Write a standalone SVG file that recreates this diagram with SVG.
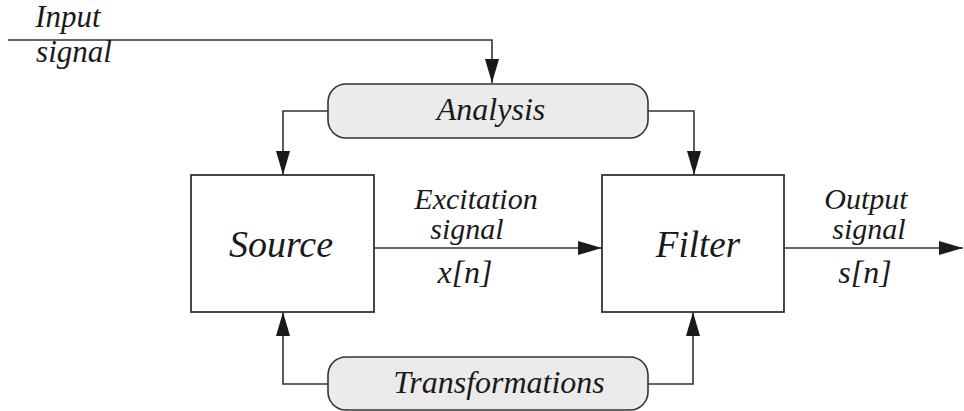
<svg xmlns="http://www.w3.org/2000/svg" width="964" height="411" viewBox="0 0 964 411">
<defs>
<marker id="arr" markerUnits="userSpaceOnUse" markerWidth="26" markerHeight="16" refX="24" refY="7" orient="auto">
<path d="M0,0 L24,7 L0,14 Z" fill="#1a1a1a"/>
</marker>
<style>
.ln{fill:none;stroke:#333;stroke-width:1.6}
.box{fill:#fff;stroke:#333;stroke-width:1.8}
.pill{fill:#ebebeb;stroke:#333;stroke-width:1.6}
</style>
</defs>
<rect width="964" height="411" fill="#fff"/>
<g id="connectors">
<path class="ln" d="M8,40 H492 V83" marker-end="url(#arr)"/>
<path class="ln" d="M328,111 H283 V175" marker-end="url(#arr)"/>
<path class="ln" d="M648,111 H694 V175" marker-end="url(#arr)"/>
<path class="ln" d="M374,248 H602" marker-end="url(#arr)"/>
<path class="ln" d="M784,248 H963" marker-end="url(#arr)"/>
<path class="ln" d="M328,384 H283 V312" marker-end="url(#arr)"/>
<path class="ln" d="M648,384 H693 V312" marker-end="url(#arr)"/>
</g>
<g id="input-label">
<text x="68" y="27" font-family="Liberation Serif, DejaVu Serif, serif" font-style="italic" font-size="31" fill="#1a1a1a" text-anchor="middle">Input</text>
<text x="74" y="62" font-family="Liberation Serif, DejaVu Serif, serif" font-style="italic" font-size="31" fill="#1a1a1a" text-anchor="middle">signal</text>
</g>
<g id="analysis">
<rect class="pill" x="328" y="84" width="320" height="54" rx="18"/>
<text x="491" y="120" font-family="Liberation Serif, DejaVu Serif, serif" font-style="italic" font-size="32" fill="#1a1a1a" text-anchor="middle">Analysis</text>
</g>
<g id="source">
<rect class="box" x="191" y="175" width="183" height="137"/>
<text x="281" y="257" font-family="Liberation Serif, DejaVu Serif, serif" font-style="italic" font-size="38" fill="#1a1a1a" text-anchor="middle">Source</text>
</g>
<g id="filter">
<rect class="box" x="602" y="175" width="182" height="137"/>
<text x="698" y="257" font-family="Liberation Serif, DejaVu Serif, serif" font-style="italic" font-size="37" fill="#1a1a1a" text-anchor="middle">Filter</text>
</g>
<g id="excitation-label">
<text x="476" y="209" font-family="Liberation Serif, DejaVu Serif, serif" font-style="italic" font-size="30" fill="#1a1a1a" text-anchor="middle">Excitation</text>
<text x="467" y="239" font-family="Liberation Serif, DejaVu Serif, serif" font-style="italic" font-size="30" fill="#1a1a1a" text-anchor="middle">signal</text>
<text x="465" y="283" font-family="Liberation Serif, DejaVu Serif, serif" font-style="italic" font-size="32" fill="#1a1a1a" text-anchor="middle">x[n]</text>
</g>
<g id="output-label">
<text x="866" y="209" font-family="Liberation Serif, DejaVu Serif, serif" font-style="italic" font-size="30" fill="#1a1a1a" text-anchor="middle">Output</text>
<text x="869" y="239" font-family="Liberation Serif, DejaVu Serif, serif" font-style="italic" font-size="30" fill="#1a1a1a" text-anchor="middle">signal</text>
<text x="865" y="283" font-family="Liberation Serif, DejaVu Serif, serif" font-style="italic" font-size="32" fill="#1a1a1a" text-anchor="middle">s[n]</text>
</g>
<g id="transformations">
<rect class="pill" x="328" y="357" width="320" height="53" rx="18"/>
<text x="499" y="393" font-family="Liberation Serif, DejaVu Serif, serif" font-style="italic" font-size="32" fill="#1a1a1a" text-anchor="middle">Transformations</text>
</g>
</svg>
